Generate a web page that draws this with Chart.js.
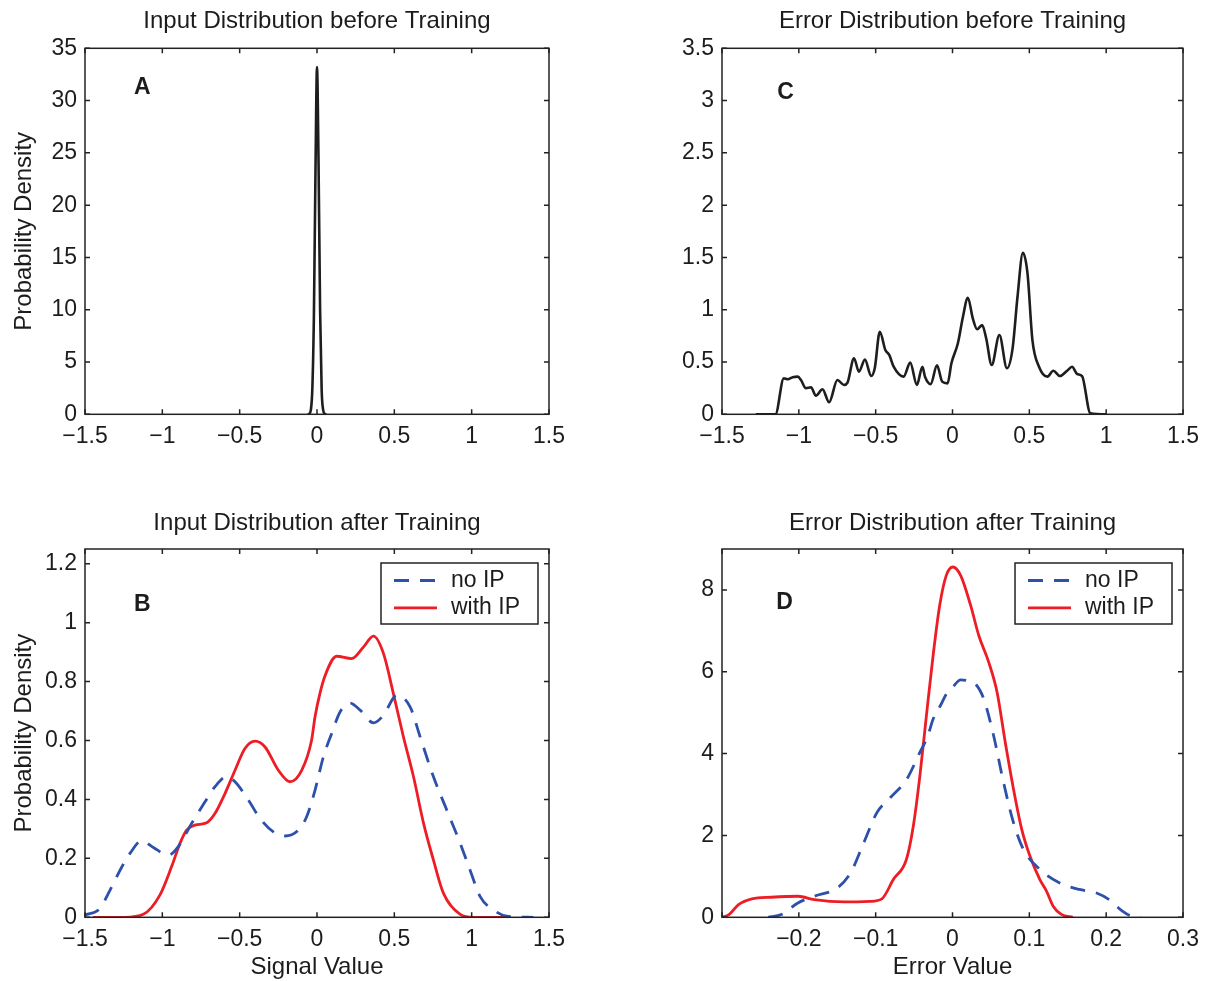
<!DOCTYPE html>
<html>
<head>
<meta charset="utf-8">
<script src="https://cdn.jsdelivr.net/npm/chart.js@4.4.1/dist/chart.umd.min.js"></script>
<style>
html,body{margin:0;padding:0;background:#fff;}
#wrap{position:relative;width:1208px;height:981px;overflow:hidden;background:#fff;}
canvas{position:absolute;display:block;}
</style>
</head>
<body>
<div id="wrap">
<canvas id="cA" width="604" height="480" style="left:0;top:0"></canvas>
<canvas id="cC" width="604" height="480" style="left:604px;top:0"></canvas>
<canvas id="cB" width="604" height="501" style="left:0;top:480px"></canvas>
<canvas id="cD" width="604" height="501" style="left:604px;top:480px"></canvas>
</div>
<script>
// ---------------- DATA ----------------
// Panel A: input distribution before training
const inputBeforeX = [-0.06, -0.05, -0.04, -0.03, -0.02, -0.01, 0, 0.01, 0.02, 0.03, 0.04, 0.05, 0.06];
const inputBeforeY = [0, 0.05, 0.4, 2.5, 9.5, 23, 33.2, 24, 10, 2.4, 0.4, 0.05, 0];

// Panel C: error distribution before training
const errorBeforeX = [-1.28, -1.152, -1.098, -1.072, -1.04, -1.007, -0.986, -0.954, -0.921, -0.889, -0.846, -0.803,
  -0.749, -0.706, -0.684, -0.641, -0.609, -0.57, -0.529, -0.506, -0.473, -0.437, -0.411, -0.383, -0.318, -0.275,
  -0.232, -0.196, -0.179, -0.142, -0.101, -0.067, -0.032, -0.007, 0.035, 0.068, 0.1, 0.132, 0.16, 0.193, 0.219,
  0.255, 0.305, 0.354, 0.391, 0.423, 0.458, 0.488, 0.52, 0.563, 0.617, 0.656, 0.699, 0.746, 0.778, 0.811, 0.843,
  0.897, 1.004];
const errorBeforeY = [0, 0, 0.344, 0.335, 0.354, 0.36, 0.328, 0.25, 0.258, 0.178, 0.239, 0.115,
  0.328, 0.28, 0.3, 0.535, 0.408, 0.523, 0.366, 0.44, 0.79, 0.615, 0.566, 0.455, 0.36, 0.494,
  0.28, 0.455, 0.36, 0.289, 0.468, 0.312, 0.296, 0.488, 0.679, 0.933, 1.115, 0.917, 0.813, 0.853, 0.727,
  0.471, 0.758, 0.44, 0.631, 1.124, 1.545, 1.348, 0.71, 0.455, 0.36, 0.417, 0.366, 0.417, 0.455, 0.385, 0.366,
  0.01, 0];

// Panel B: input distribution after training
const inputNoIPX = [-1.5, -1.403, -1.349, -1.263, -1.209, -1.134, -1.058, -0.961, -0.897, -0.81, -0.724, -0.66,
  -0.584, -0.53, -0.444, -0.369, -0.282, -0.207, -0.121, -0.067, -0.013, 0.041, 0.095, 0.149, 0.214, 0.279,
  0.365, 0.43, 0.516, 0.602, 0.667, 0.753, 0.839, 0.926, 0.99, 1.055, 1.141, 1.227, 1.4];
const inputNoIPY = [0.008, 0.03, 0.081, 0.17, 0.217, 0.26, 0.237, 0.211, 0.24, 0.319, 0.392, 0.443,
  0.477, 0.46, 0.398, 0.336, 0.29, 0.276, 0.296, 0.341, 0.431, 0.544, 0.624, 0.697, 0.727, 0.703,
  0.66, 0.686, 0.754, 0.714, 0.612, 0.477, 0.364, 0.251, 0.16, 0.07, 0.025, 0.004, 0];
const inputIPX = [-1.45, -1.241, -1.123, -1.015, -0.94, -0.886, -0.843, -0.789, -0.713, -0.66, -0.595, -0.53,
  -0.466, -0.401, -0.336, -0.25, -0.175, -0.099, -0.035, -0.013, 0.019, 0.052, 0.127, 0.224, 0.3, 0.365, 0.43,
  0.494, 0.559, 0.624, 0.689, 0.753, 0.818, 0.926, 1.012, 1.25];
const inputIPY = [0, 0, 0.01, 0.076, 0.172, 0.251, 0.296, 0.313, 0.321, 0.352, 0.42, 0.499,
  0.573, 0.598, 0.578, 0.499, 0.46, 0.499, 0.601, 0.68, 0.76, 0.82, 0.886, 0.878, 0.917, 0.954, 0.895,
  0.759, 0.612, 0.477, 0.319, 0.194, 0.081, 0.01, 0, 0];

// Panel D: error distribution after training
const errorNoIPX = [-0.24, -0.2227, -0.2013, -0.18, -0.1498, -0.1326, -0.1155, -0.0983, -0.0811, -0.0597, -0.0425,
  -0.0322, -0.0253, -0.015, -0.0082, 0, 0.0107, 0.02, 0.03, 0.0408, 0.0536, 0.0665, 0.0794, 0.0923, 0.1137, 0.1395,
  0.1652, 0.1867, 0.2039, 0.2211, 0.234, 0.245];
const errorNoIPY = [0, 0.066, 0.35, 0.514, 0.72, 1.087, 1.82, 2.56, 2.92, 3.37, 4.03,
  4.43, 4.84, 5.2, 5.45, 5.62, 5.8, 5.78, 5.7, 5.33, 4.43, 3.29, 2.31, 1.66, 1.17, 0.84,
  0.68, 0.6, 0.43, 0.15, 0.02, 0];
const errorIPX = [-0.3, -0.291, -0.2785, -0.261, -0.2356, -0.201, -0.18, -0.141, -0.107, -0.092, -0.077, -0.06,
  -0.051, -0.0425, -0.034, -0.0253, -0.0167, -0.0082, 0.0004, 0.0107, 0.0236, 0.0343, 0.0472, 0.058, 0.0687,
  0.0794, 0.0901, 0.1009, 0.1137, 0.1223, 0.131, 0.1417, 0.1567];
const errorIPY = [0, 0.066, 0.31, 0.45, 0.49, 0.514, 0.433, 0.377, 0.39, 0.45, 0.923, 1.413,
  2.23, 3.45, 4.92, 6.39, 7.62, 8.35, 8.56, 8.35, 7.62, 6.88, 6.23, 5.5, 4.27,
  3.13, 2.15, 1.49, 0.92, 0.64, 0.27, 0.07, 0];

// Labels
const seriesLabels = ['no IP', 'with IP'];
const panelTitles = ['Input Distribution before Training', 'Error Distribution before Training',
  'Input Distribution after Training', 'Error Distribution after Training'];
const yTitle = 'Probability Density';
const xTitles = ['Signal Value', 'Error Value'];
const panelLetters = ['A', 'C', 'B', 'D'];

// ---------------- STYLE ----------------
const FONT = "'Liberation Sans', Arial, Helvetica, sans-serif";
const TXT = '#1c1c1c';
const BLUE = '#2d50aa';
const RED = '#ee1c25';
const BLACK = '#1e1e1e';

function pts(xs, ys) { return xs.map((x, i) => ({x: x, y: ys[i]})); }
function fmt(v) {
  const s = String(Math.round(v * 1000) / 1000);
  return s.replace('-', '\u2212');
}

const framePlugin = {
  id: 'frame',
  afterDraw(chart, args, o) {
    const {ctx, chartArea: a} = chart;
    const x = chart.scales.x, y = chart.scales.y;
    ctx.save();
    ctx.strokeStyle = '#222';
    ctx.lineWidth = 1.5;
    ctx.strokeRect(a.left, a.top, a.right - a.left, a.bottom - a.top);
    const L = 5;
    ctx.beginPath();
    x.ticks.forEach(t => {
      const px = x.getPixelForValue(t.value);
      ctx.moveTo(px, a.bottom); ctx.lineTo(px, a.bottom - L);
      ctx.moveTo(px, a.top); ctx.lineTo(px, a.top + L);
    });
    y.ticks.forEach(t => {
      const py = y.getPixelForValue(t.value);
      ctx.moveTo(a.left, py); ctx.lineTo(a.left + L, py);
      ctx.moveTo(a.right, py); ctx.lineTo(a.right - L, py);
    });
    ctx.stroke();
    ctx.fillStyle = TXT;
    if (o && o.title) {
      ctx.font = '24px ' + FONT;
      ctx.textAlign = 'center';
      ctx.textBaseline = 'middle';
      ctx.fillText(o.title, (a.left + a.right) / 2, o.titleY);
    }
    if (o && o.letter) {
      ctx.font = 'bold 23px ' + FONT;
      ctx.textAlign = 'center';
      ctx.textBaseline = 'middle';
      ctx.fillText(o.letter, x.getPixelForValue(o.lx), y.getPixelForValue(o.ly));
    }
    ctx.restore();
  }
};

const boxLegendPlugin = {
  id: 'boxLegend',
  afterDraw(chart, args, o) {
    if (!o || !o.show) return;
    const {ctx, chartArea: a} = chart;
    const w = 157, h = 61;
    const bx = a.right - o.marginRight - w, by = a.top + o.marginTop;
    ctx.save();
    ctx.fillStyle = '#fff';
    ctx.fillRect(bx, by, w, h);
    ctx.strokeStyle = '#222';
    ctx.lineWidth = 1.5;
    ctx.strokeRect(bx, by, w, h);
    chart.data.datasets.forEach((ds, i) => {
      const cy = by + 17.5 + i * 27.3;
      ctx.strokeStyle = ds.borderColor;
      ctx.lineWidth = ds.borderWidth;
      ctx.setLineDash(ds.borderDash || []);
      ctx.beginPath();
      ctx.moveTo(bx + 13, cy);
      ctx.lineTo(bx + 56, cy);
      ctx.stroke();
      ctx.setLineDash([]);
      ctx.fillStyle = TXT;
      ctx.font = '23px ' + FONT;
      ctx.textAlign = 'left';
      ctx.textBaseline = 'middle';
      ctx.fillText(ds.label, bx + 70, cy);
    });
    ctx.restore();
  }
};

function makePanel(id, p) {
  const xScale = {
    type: 'linear',
    min: p.xmin, max: p.xmax,
    grid: {display: false, drawTicks: false},
    border: {display: false},
    afterFit: s => { s.height = p.xAxisH; },
    ticks: {
      stepSize: p.xstep, autoSkip: false, maxRotation: 0, includeBounds: false,
      padding: 9, color: TXT, font: {family: FONT, size: 23},
      callback: v => (p.hideX !== undefined && Math.abs(v - p.hideX) < 1e-9) ? '' : fmt(v)
    },
    title: p.xTitle ? {display: true, text: p.xTitle, color: TXT,
      font: {family: FONT, size: 24, lineHeight: 1}, padding: {top: 0, bottom: 2}} : {display: false}
  };
  const yScale = {
    type: 'linear',
    min: 0, max: p.ymax,
    grid: {display: false, drawTicks: false},
    border: {display: false},
    afterFit: s => { s.width = p.yAxisW; },
    ticks: {
      stepSize: p.ystep, autoSkip: false, includeBounds: false,
      padding: 8, color: TXT, font: {family: FONT, size: 23},
      callback: v => fmt(v)
    },
    title: p.yTitle ? {display: true, text: p.yTitle, color: TXT,
      font: {family: FONT, size: 24, lineHeight: 1}, padding: {top: 12, bottom: 0}} : {display: false}
  };
  return new Chart(document.getElementById(id), {
    type: 'line',
    data: {datasets: p.datasets.map(d => Object.assign({
      pointRadius: 0, pointHoverRadius: 0, fill: false,
      cubicInterpolationMode: 'monotone', borderJoinStyle: 'round', borderCapStyle: 'butt'
    }, d))},
    options: {
      responsive: false,
      devicePixelRatio: 1,
      animation: false,
      events: [],
      layout: {padding: {left: 0, right: p.padRight, top: p.padTop, bottom: 0}},
      scales: {x: xScale, y: yScale},
      plugins: {
        legend: {display: false},
        tooltip: {enabled: false},
        title: {display: false},
        frame: {letter: p.letter, lx: p.lx, ly: p.ly, title: p.title, titleY: p.titleY},
        boxLegend: p.legend || {show: false}
      }
    },
    plugins: [framePlugin, boxLegendPlugin]
  });
}

// Panel A
makePanel('cA', {
  title: panelTitles[0], titleY: 21, padTop: 48.3,
  xmin: -1.5, xmax: 1.5, xstep: 0.5, ymax: 35, ystep: 5,
  yAxisW: 85, padRight: 55, xAxisH: 65.7, yTitle: yTitle,
  letter: panelLetters[0], lx: -1.13, ly: 31.2,
  datasets: [{label: 'input', data: pts(inputBeforeX, inputBeforeY), borderColor: BLACK, borderWidth: 2.6}]
});
// Panel C
makePanel('cC', {
  title: panelTitles[1], titleY: 21, padTop: 48.3,
  xmin: -1.5, xmax: 1.5, xstep: 0.5, ymax: 3.5, ystep: 0.5,
  yAxisW: 118, padRight: 21, xAxisH: 65.7,
  letter: panelLetters[1], lx: -1.087, ly: 3.08,
  datasets: [{label: 'error', data: pts(errorBeforeX, errorBeforeY), borderColor: BLACK, borderWidth: 2.6}]
});
// Panel B
makePanel('cB', {
  title: panelTitles[2], titleY: 43, padTop: 69,
  xmin: -1.5, xmax: 1.5, xstep: 0.5, ymax: 1.25, ystep: 0.2,
  yAxisW: 85, padRight: 55, xAxisH: 63.7, yTitle: yTitle, xTitle: xTitles[0],
  letter: panelLetters[2], lx: -1.13, ly: 1.06,
  legend: {show: true, marginRight: 11, marginTop: 14},
  datasets: [
    {label: seriesLabels[0], data: pts(inputNoIPX, inputNoIPY), borderColor: BLUE, borderWidth: 2.8, borderDash: [15, 11]},
    {label: seriesLabels[1], data: pts(inputIPX, inputIPY), borderColor: RED, borderWidth: 2.8}
  ]
});
// Panel D
makePanel('cD', {
  title: panelTitles[3], titleY: 43, padTop: 69,
  xmin: -0.3, xmax: 0.3, xstep: 0.1, hideX: -0.3, ymax: 9, ystep: 2,
  yAxisW: 118, padRight: 21, xAxisH: 63.7, xTitle: xTitles[1],
  letter: panelLetters[3], lx: -0.2185, ly: 7.7,
  legend: {show: true, marginRight: 11, marginTop: 14},
  datasets: [
    {label: seriesLabels[0], data: pts(errorNoIPX, errorNoIPY), borderColor: BLUE, borderWidth: 2.8, borderDash: [15, 11]},
    {label: seriesLabels[1], data: pts(errorIPX, errorIPY), borderColor: RED, borderWidth: 2.8}
  ]
});
</script>
</body>
</html>
